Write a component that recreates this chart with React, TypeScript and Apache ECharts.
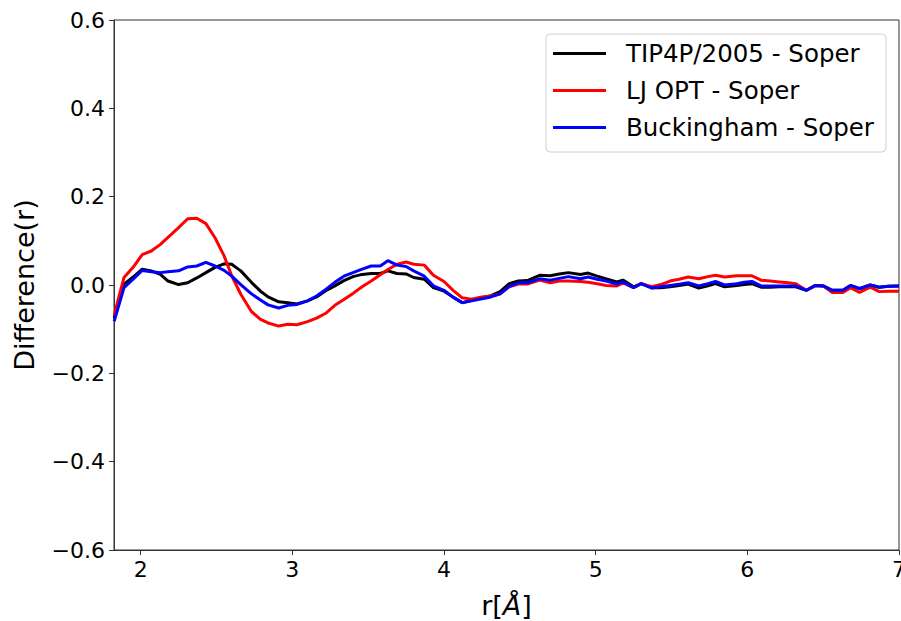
import React, { useEffect, useRef } from "react";
import * as echarts from "echarts";

const rValues = [
  1.825, 1.89, 1.95, 2.01, 2.07, 2.13, 2.18, 2.25, 2.31, 2.37, 2.43, 2.49, 2.55, 2.6, 2.66, 2.73, 2.79, 2.84, 2.91, 2.97,
  3.03, 3.1, 3.16, 3.22, 3.28, 3.34, 3.4, 3.46, 3.52, 3.58, 3.63, 3.69, 3.75, 3.8, 3.87, 3.93, 4.0, 4.06, 4.12, 4.18,
  4.25, 4.31, 4.37, 4.43, 4.49, 4.55, 4.63, 4.7, 4.76, 4.82, 4.9, 4.95, 5.01, 5.07, 5.14, 5.18, 5.25, 5.3, 5.37, 5.43,
  5.49, 5.55, 5.61, 5.68, 5.74, 5.79, 5.85, 5.93, 5.98, 6.03, 6.09, 6.15, 6.21, 6.27, 6.32, 6.39, 6.45, 6.5, 6.56, 6.63,
  6.68, 6.74, 6.81, 6.87, 6.93, 7.0,
];

const tip4pValues = [
  -0.075, 0.002, 0.018, 0.036, 0.032, 0.024, 0.009, 0.001, 0.005, 0.016, 0.028, 0.04, 0.048, 0.047, 0.032, 0.006, -0.014, -0.027, -0.038, -0.04,
  -0.043, -0.036, -0.027, -0.013, -0.002, 0.01, 0.019, 0.024, 0.026, 0.026, 0.032, 0.026, 0.025, 0.017, 0.013, -0.006, -0.014, -0.027, -0.04, -0.035,
  -0.029, -0.024, -0.015, 0.003, 0.009, 0.01, 0.022, 0.021, 0.025, 0.028, 0.024, 0.027, 0.02, 0.014, 0.007, 0.011, -0.004, 0.003, -0.006, -0.006,
  -0.004, -0.001, 0.002, -0.007, -0.002, 0.003, -0.004, -0.001, 0.001, 0.003, -0.005, -0.005, -0.004, -0.004, -0.004, -0.012, -0.001, -0.002, -0.012, -0.012,
  -0.001, -0.009, 0.0, -0.005, -0.003, -0.002,
];

const ljOptValues = [
  -0.068, 0.017, 0.04, 0.069, 0.077, 0.092, 0.108, 0.13, 0.15, 0.151, 0.139, 0.107, 0.066, 0.021, -0.021, -0.06, -0.078, -0.086, -0.093, -0.089,
  -0.09, -0.083, -0.075, -0.064, -0.046, -0.033, -0.019, -0.004, 0.009, 0.023, 0.035, 0.047, 0.052, 0.047, 0.045, 0.022, 0.008, -0.012, -0.029, -0.032,
  -0.027, -0.025, -0.02, -0.004, 0.002, 0.002, 0.011, 0.005, 0.009, 0.009, 0.008, 0.006, 0.003, -0.001, -0.002, 0.005, -0.006, 0.003, -0.004, 0.001,
  0.009, 0.013, 0.018, 0.014, 0.019, 0.022, 0.018, 0.021, 0.021, 0.021, 0.011, 0.009, 0.007, 0.005, 0.003, -0.012, -0.001, -0.002, -0.017, -0.017,
  -0.006, -0.017, -0.005, -0.015, -0.014, -0.014,
];

const buckinghamValues = [
  -0.082, -0.006, 0.013, 0.033, 0.03, 0.028, 0.03, 0.032, 0.041, 0.043, 0.051, 0.043, 0.033, 0.02, 0.001, -0.02, -0.034, -0.045, -0.052, -0.046,
  -0.044, -0.036, -0.025, -0.01, 0.006, 0.02, 0.028, 0.036, 0.043, 0.043, 0.055, 0.045, 0.042, 0.032, 0.02, -0.002, -0.012, -0.028, -0.04, -0.036,
  -0.031, -0.027, -0.02, -0.003, 0.005, 0.005, 0.014, 0.011, 0.015, 0.019, 0.014, 0.018, 0.013, 0.009, 0.002, 0.007, -0.006, 0.003, -0.007, -0.004,
  -0.001, 0.002, 0.005, -0.002, 0.003, 0.008, 0.0, 0.003, 0.006, 0.008, -0.002, -0.002, -0.002, -0.002, -0.002, -0.012, -0.001, -0.002, -0.012, -0.012,
  -0.001, -0.008, 0.0, -0.005, -0.003, -0.002,
];

const xTicks = [2, 3, 4, 5, 6, 7];
const seriesNames = ["TIP4P/2005 - Soper", "LJ OPT - Soper", "Buckingham - Soper"];
const seriesColors = ["#000000", "#ff0000", "#0000ff"];

const FONT = "DejaVu Sans";

export default function App() {
  const ref = useRef<HTMLDivElement>(null);
  useEffect(() => {
    document.body.style.margin = "0";
    if (!ref.current) return;
    const chart = echarts.init(ref.current, null, { renderer: "svg" });
    const allValues = [tip4pValues, ljOptValues, buckinghamValues];
    chart.setOption({
      animation: false,
      backgroundColor: "#ffffff",
      grid: {
        left: 114,
        top: 20,
        right: 2,
        bottom: 71,
        show: true,
        borderColor: "#333",
        borderWidth: 1,
        containLabel: false,
        outerBoundsMode: "none",
      },
      legend: {
        show: true,
        orient: "vertical",
        left: 546,
        top: 34,
        icon: "rect",
        itemWidth: 53,
        itemHeight: 3,
        itemGap: 12,
        padding: [7, 12, 12, 7],
        borderColor: "#d0d0d0",
        borderWidth: 1,
        borderRadius: 4,
        backgroundColor: "rgba(255,255,255,0.8)",
        textStyle: {
          fontFamily: FONT,
          fontSize: 24.5,
          lineHeight: 25,
          color: "#000",
          padding: [0, 0, 0, 15],
        },
        data: seriesNames,
      },
      xAxis: {
        type: "value",
        min: 1.824,
        max: 7,
        name: "r[{i|Å}]",
        nameLocation: "middle",
        nameGap: 42,
        nameTextStyle: {
          fontFamily: FONT,
          fontSize: 27,
          color: "#000",
          rich: { i: { fontFamily: FONT, fontSize: 27, fontStyle: "italic", color: "#000" } },
        },
        axisLine: { show: true, onZero: false, lineStyle: { color: "#333", width: 1 } },
        axisTick: { show: true, customValues: xTicks, length: 5, lineStyle: { color: "#333" } },
        axisLabel: {
          customValues: xTicks,
          fontFamily: FONT,
          fontSize: 22,
          color: "#000",
          margin: 8,
          formatter: (v: number) => String(v),
        },
        splitLine: { show: false },
      },
      yAxis: {
        type: "value",
        min: -0.6,
        max: 0.6,
        interval: 0.2,
        name: "Difference(r)",
        nameLocation: "middle",
        nameGap: 76,
        nameTextStyle: { fontFamily: FONT, fontSize: 27, color: "#000" },
        axisLine: { show: true, onZero: false, lineStyle: { color: "#333", width: 1 } },
        axisTick: { show: true, length: 5, lineStyle: { color: "#333" } },
        axisLabel: {
          fontFamily: FONT,
          fontSize: 22,
          color: "#000",
          margin: 9,
          formatter: (v: number) => v.toFixed(1).replace("-", "\u2212"),
        },
        splitLine: { show: false },
      },
      series: seriesNames.map((name, i) => ({
        name,
        type: "line",
        data: rValues.map((r, k) => [r, allValues[i][k]]),
        symbol: "none",
        showSymbol: false,
        clip: true,
        lineStyle: { color: seriesColors[i], width: 3 },
        itemStyle: { color: seriesColors[i] },
        z: 2 + i,
      })),
    });
    return () => chart.dispose();
  }, []);
  return <div ref={ref} style={{ width: 901, height: 621 }} />;
}
